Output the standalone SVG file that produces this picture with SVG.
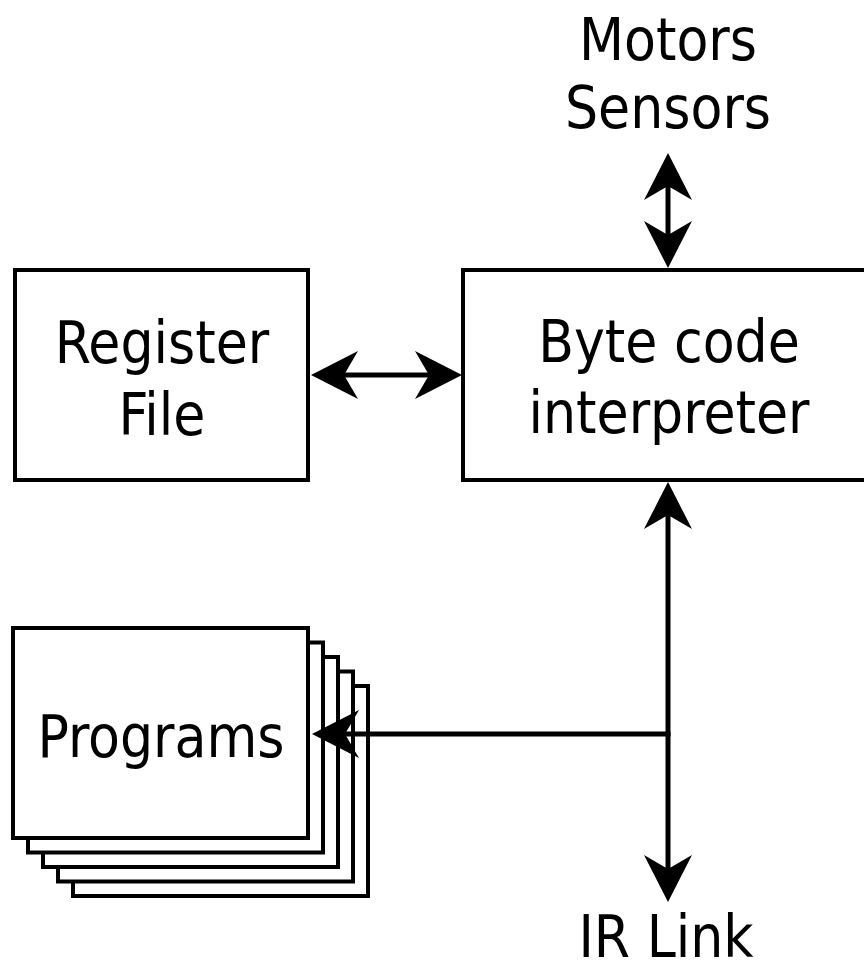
<svg xmlns="http://www.w3.org/2000/svg" xmlns:xlink="http://www.w3.org/1999/xlink" width="864" height="973" viewBox="0 0 864 973">
  <style>
    .box { fill: #ffffff; stroke: #000000; stroke-width: 4; }
    .label { font-family: "DejaVu Sans Condensed", "DejaVu Sans", Verdana, sans-serif; font-size: 58px; fill: #000000; text-anchor: middle; }
    .wire { fill: none; stroke: #000000; stroke-width: 5; stroke-linecap: butt; }
    .head { fill: #000000; }
  </style>
  <defs>
    <!-- arrowhead with notched back, tip at origin, pointing along +x -->
    <path id="ah" class="head" d="M0,0 L-47,-24 L-33,0 L-47,24 Z"/>
  </defs>

  <rect width="864" height="973" fill="#ffffff"/>

  <g id="register-file">
    <rect class="box" x="15" y="270" width="293" height="210"/>
    <text class="label" x="162" y="363">Register</text>
    <text class="label" x="162" y="435">File</text>
  </g>

  <g id="interpreter">
    <rect class="box" x="463" y="270" width="420" height="210"/>
    <text class="label" x="669" y="362">Byte code</text>
    <text class="label" x="669" y="433">interpreter</text>
  </g>

  <g id="programs">
    <rect class="box" x="73" y="686" width="295" height="210"/>
    <rect class="box" x="58" y="671.5" width="295" height="210"/>
    <rect class="box" x="43" y="657" width="295" height="210"/>
    <rect class="box" x="28" y="642.5" width="295" height="210"/>
    <rect class="box" x="13" y="628" width="295" height="210"/>
    <text class="label" x="161" y="757">Programs</text>
  </g>

  <g id="io">
    <text class="label" x="668" y="60">Motors</text>
    <text class="label" x="668" y="128">Sensors</text>
  </g>

  <g id="ir-link">
    <text class="label" x="666" y="957">IR Link</text>
  </g>

  <g id="connectors">
    <!-- interpreter <-> motors/sensors -->
    <line class="wire" x1="668" y1="184" x2="668" y2="237"/>
    <use xlink:href="#ah" transform="translate(668,153) rotate(-90)"/>
    <use xlink:href="#ah" transform="translate(668,268) rotate(90)"/>

    <!-- register file <-> interpreter -->
    <line class="wire" x1="342" y1="375" x2="431" y2="375"/>
    <use xlink:href="#ah" transform="translate(311,375) rotate(180)"/>
    <use xlink:href="#ah" transform="translate(462,375)"/>

    <!-- interpreter <-> IR link bus -->
    <line class="wire" x1="668" y1="513" x2="668" y2="871"/>
    <use xlink:href="#ah" transform="translate(668,482) rotate(-90)"/>
    <use xlink:href="#ah" transform="translate(668,902) rotate(90)"/>

    <!-- bus -> programs -->
    <line class="wire" x1="343" y1="734" x2="670.5" y2="734"/>
    <use xlink:href="#ah" transform="translate(312,734) rotate(180)"/>
  </g>
</svg>
